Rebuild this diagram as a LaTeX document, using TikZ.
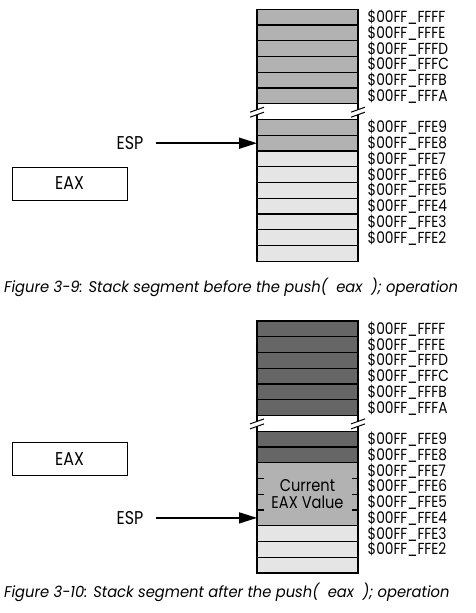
\documentclass[tikz,border=0pt]{standalone}
\usepackage{fontspec}
\setmainfont{Poppins}[FakeStretch=0.86]
\newfontfamily\capfont{Poppins}[FakeStretch=0.95]
\usetikzlibrary{arrows.meta}

\tikzset{
	cell/.style={draw=black, line width=1.2pt},
	regbox/.style={draw, line width=0.9pt, minimum width=115pt, minimum height=33pt, inner sep=0pt, font=\fontsize{18.5}{20}\selectfont},
	regname/.style={inner sep=0pt, font=\fontsize{18.5}{20}\selectfont},
	addr/.style={anchor=west, inner sep=0pt, font=\fontsize{16}{16}\selectfont},
	valtext/.style={align=center, inner sep=0pt, font=\fontsize{17}{16.5}\selectfont},
	figcap/.style={anchor=west, inner sep=0pt, font=\capfont\fontsize{15.5}{16}\selectfont\itshape},
	ptr/.style={line width=1.5pt, -{Triangle[length=18pt,width=11pt]}, shorten <=12pt},
}
\def\addrlist{0/FFFF,1/FFFE,2/FFFD,3/FFFC,4/FFFB,5/FFFA,7/FFE9,8/FFE8,9/FFE7,10/FFE6,11/FFE5,12/FFE4,13/FFE3,14/FFE2}
\newcommand{\gapmark}[2]{%
	\fill[white] (#1-7,#2+0.5) -- (#1+7,#2-4.5) -- (#1+7,#2+0.5) -- (#1-7,#2+5.5) -- cycle;
	\draw[line width=1pt] (#1-7,#2+0.5) -- (#1+7,#2-4.5);
	\draw[line width=1pt] (#1-7,#2+5.5) -- (#1+7,#2+0.5);}

\begin{document}
\begin{tikzpicture}[x=1pt,y=-1pt]
	\useasboundingbox (0,0) rectangle (476,613);
	
	% Figure 3-9
	\foreach \i in {0,...,5,7,8}
		\draw[cell,fill=black!30] (257,{9.3+15.75*\i}) rectangle (358,{25.05+15.75*\i});
	\foreach \i in {9,...,15}
		\draw[cell,fill=black!10] (257,{9.3+15.75*\i}) rectangle (358,{25.05+15.75*\i});
	\draw[cell] (257,103.8) -- (257,119.55) (358,103.8) -- (358,119.55);
	\gapmark{257}{111.7}
	\gapmark{358}{111.7}
	\foreach \i/\a in \addrlist
		\node[addr] (ta\i) at (367.5,{17.4+15.75*\i}) {\$00FF\_\a};
	
	\node[regname] (espa) at (130,143.2) {ESP};
	\coordinate (spa) at (257,143.2);
	\draw[ptr] (espa) -- (spa);
	\node[regbox] (eaxa) at (69.5,183.5) {EAX};
	
	\node[figcap] (capa) at (4,287.5) {Figure 3-9: Stack segment before the push(~~eax~~); operation};
	
	% Figure 3-10
	\foreach \i in {0,...,5,7,8}
		\draw[cell,fill=black!60] (257,{321+15.75*\i}) rectangle (358,{336.75+15.75*\i});
	\draw[cell,fill=black!30] (257,462.75) rectangle (358,525.75);
	\foreach \i in {13,14,15}
		\draw[cell,fill=black!10] (257,{321+15.75*\i}) rectangle (358,{336.75+15.75*\i});
	\foreach \y in {478.5,494.25,510}
		\draw[cell] (257,\y) -- +(6.5,0) (358,\y) -- +(-6.5,0);
	\draw[cell] (257,415.5) -- (257,431.25) (358,415.5) -- (358,431.25);
	\gapmark{257}{423.4}
	\gapmark{358}{423.4}
	\foreach \i/\a in \addrlist
		\node[addr] (ba\i) at (367.5,{329.1+15.75*\i}) {\$00FF\_\a};
	\node[valtext] (eaxval) at (307.5,494.25) {Current\\EAX Value};
	
	\node[regbox] (eaxb) at (69.5,459) {EAX};
	\node[regname] (espb) at (130,517.9) {ESP};
	\coordinate (spb) at (257,517.9);
	\draw[ptr] (espb) -- (spb);
	
	\node[figcap] (capb) at (4,592.5) {Figure 3-10: Stack segment after the push(~~eax~~); operation};
\end{tikzpicture}
\end{document}
